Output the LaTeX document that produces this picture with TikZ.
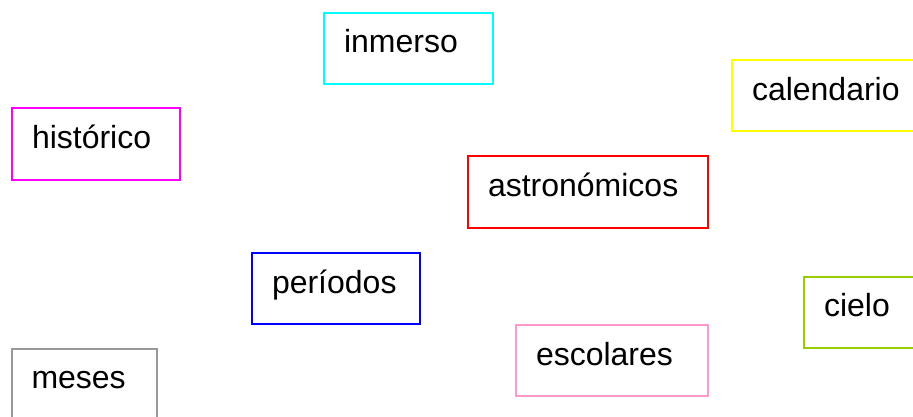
\documentclass[tikz,border=0pt]{standalone}
\usepackage{fontspec}
\setmainfont{Liberation Sans}
\definecolor{cInm}{RGB}{0,255,255}
\definecolor{cCal}{RGB}{255,255,0}
\definecolor{cHis}{RGB}{255,0,255}
\definecolor{cAst}{RGB}{255,0,0}
\definecolor{cPer}{RGB}{0,0,255}
\definecolor{cCie}{RGB}{153,204,0}
\definecolor{cEsc}{RGB}{255,153,204}
\definecolor{cMes}{RGB}{153,153,153}
\tikzset{
  wordbox/.style={draw, line width=1.5pt, anchor=north west, align=left,
    inner xsep=15pt, inner ysep=0pt, text height=30pt, text depth=23.25pt,
    font=\fontsize{24}{28}\selectfont, text=black}
}
\begin{document}
\begin{tikzpicture}[x=0.75pt,y=-0.75pt]
\useasboundingbox (0,0) rectangle (913,417);
\clip (0,0) rectangle (913,417);
\node[wordbox, draw=cInm, text width=96.75pt] (inmerso) at (323,12) {inmerso};
\node[wordbox, draw=cCal, text width=120pt] (calendario) at (731,59.5) {calendario};
\node[wordbox, draw=cHis, text width=96pt] (historico) at (11,107.5) {histórico};
\node[wordbox, draw=cAst, text width=150pt] (astronomicos) at (467,155.5) {astronómicos};
\node[wordbox, draw=cPer, text width=96pt] (periodos) at (251,252) {períodos};
\node[wordbox, draw=cCie, text width=82.5pt] (cielo) at (803,275.5) {cielo};
\node[wordbox, draw=cEsc, text width=114pt] (escolares) at (515,324) {escolares};
\node[wordbox, draw=cMes, text width=78.75pt] (meses) at (10.5,347.5) {meses};
\end{tikzpicture}
\end{document}
